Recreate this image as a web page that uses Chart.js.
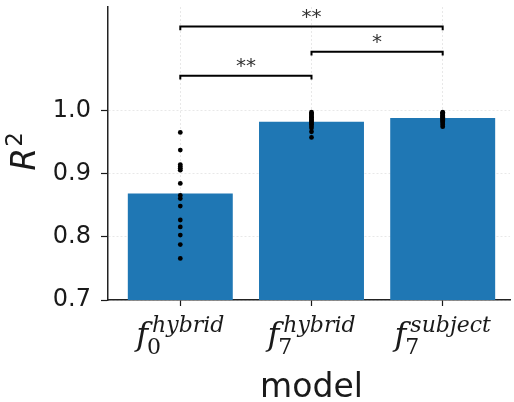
<!DOCTYPE html>
<html>
<head>
<meta charset="utf-8">
<script src="https://cdn.jsdelivr.net/npm/chart.js@4.4.0/dist/chart.umd.min.js"></script>
<style>
  html, body { margin: 0; padding: 0; background: #fff; }
  #wrap { width: 514px; height: 402px; }
</style>
</head>
<body>
<div id="wrap"><canvas id="barchart" width="514" height="402"></canvas></div>
<script>
// model names: base letter, subscript, superscript
var modelSub = ['0', '7', '7'];
var modelSup = ['hybrid', 'hybrid', 'subject'];
var meanR2 = [0.869, 0.983, 0.989];

// per-subject R^2 values (dots)
var subjR2_f0hybrid = [0.966, 0.938, 0.915, 0.912, 0.909, 0.906, 0.885, 0.866, 0.861, 0.849, 0.827, 0.816, 0.803, 0.788, 0.766];
var subjR2_f7hybrid = [0.998, 0.996, 0.994, 0.992, 0.990, 0.989, 0.987, 0.985, 0.983, 0.981, 0.979, 0.976, 0.973, 0.967, 0.958];
var subjR2_f7subject = [0.998, 0.997, 0.996, 0.995, 0.993, 0.992, 0.991, 0.990, 0.988, 0.987, 0.985, 0.983, 0.981, 0.978, 0.975];

var yTicks = [0.7, 0.8, 0.9, 1.0];

// significance brackets
var sigFrom = [0, 1, 0];
var sigTo = [1, 2, 2];
var sigLevel = [1.056, 1.094, 1.134];
var sigText = ['**', '*', '**'];

var textColor = '#1a1a1a';

var barData = meanR2.map(function(v, i) { return {x: i, y: v}; });
var dotData = [];
[subjR2_f0hybrid, subjR2_f7hybrid, subjR2_f7subject].forEach(function(arr, i) {
    arr.forEach(function(v) { dotData.push({x: i, y: v}); });
});

var extras = {
    id: 'extras',
    afterDatasetsDraw: function(chart) {
        var ctx = chart.ctx;
        var xs = chart.scales.x;
        var ys = chart.scales.y;

        // brackets
        ctx.save();
        ctx.strokeStyle = '#000';
        ctx.lineWidth = 2;
        for (var i = 0; i < sigFrom.length; i++) {
            var x1 = xs.getPixelForValue(sigFrom[i]);
            var x2 = xs.getPixelForValue(sigTo[i]);
            var y = ys.getPixelForValue(sigLevel[i]);
            var yd = ys.getPixelForValue(sigLevel[i] - 0.006);
            ctx.beginPath();
            ctx.moveTo(x1, yd);
            ctx.lineTo(x1, y);
            ctx.lineTo(x2, y);
            ctx.lineTo(x2, yd);
            ctx.stroke();
            ctx.fillStyle = '#333';
            ctx.font = '20px "DejaVu Sans"';
            ctx.textAlign = 'center';
            ctx.textBaseline = 'alphabetic';
            ctx.fillText(sigText[i], (x1 + x2) / 2, y - 4);
        }
        ctx.restore();
    },
    afterDraw: function(chart) {
        var ctx = chart.ctx;
        var xs = chart.scales.x;
        ctx.save();
        ctx.fillStyle = textColor;
        ctx.textBaseline = 'alphabetic';
        ctx.textAlign = 'left';

        // x tick labels f_sub^sup
        var mainFont = 'italic 32px "DejaVu Serif"';
        var subFont = '22px "DejaVu Serif"';
        var supFont = 'italic 22px "DejaVu Serif"';
        for (var i = 0; i < modelSub.length; i++) {
            var cx = xs.getPixelForValue(i);
            ctx.font = mainFont;
            var wf = ctx.measureText('f').width + 4;
            ctx.font = subFont;
            var wsub = ctx.measureText(modelSub[i]).width;
            ctx.font = supFont;
            var wsup = ctx.measureText(modelSup[i]).width;
            var total = wf + Math.max(wsub, wsup);
            var x0 = cx - total / 2;
            ctx.font = mainFont;
            ctx.fillText('f', x0, 345);
            ctx.font = subFont;
            ctx.fillText(modelSub[i], x0 + wf - 5, 354);
            ctx.font = supFont;
            ctx.fillText(modelSup[i], x0 + wf, 332);
        }

        // x axis title
        ctx.font = '33px "DejaVu Sans"';
        ctx.textAlign = 'center';
        ctx.fillText('model', xs.getPixelForValue(1), 397);

        // y axis title R^2
        ctx.translate(35, 152);
        ctx.rotate(-Math.PI / 2);
        ctx.textAlign = 'left';
        ctx.font = 'italic 33px "DejaVu Sans"';
        var wr = ctx.measureText('R').width;
        ctx.font = '23px "DejaVu Sans"';
        var w2 = ctx.measureText('2').width;
        var start = -(wr + w2) / 2;
        ctx.font = 'italic 33px "DejaVu Sans"';
        ctx.fillText('R', start, 0);
        ctx.font = '23px "DejaVu Sans"';
        ctx.fillText('2', start + wr + 1, -13);
        ctx.restore();
    }
};

var ctx = document.getElementById('barchart');
var chart = new Chart(ctx, {
    type: 'bar',
    data: {
        datasets: [{
            type: 'scatter',
            data: dotData,
            backgroundColor: '#000',
            borderWidth: 0,
            pointRadius: 2.4,
            order: 0
        }, {
            data: barData,
            backgroundColor: '#1f77b4',
            borderWidth: 0,
            categoryPercentage: 1.0,
            barPercentage: 0.8,
            order: 1
        }]
    },
    options: {
        responsive: false,
        animation: false,
        events: [],
        layout: { padding: { top: 7, left: 0, right: 0, bottom: 0 } },
        plugins: {
            legend: { display: false },
            tooltip: { enabled: false }
        },
        scales: {
            x: {
                type: 'linear',
                offset: false,
                min: -0.551,
                max: 2.513,
                afterBuildTicks: function(scale) {
                    scale.ticks = modelSub.map(function(s, i) { return {value: i}; });
                },
                afterFit: function(scale) {
                    scale.height = 102;
                    scale.paddingLeft = 0;
                    scale.paddingRight = 0;
                },
                ticks: {
                    callback: function() { return ''; }
                },
                grid: {
                    offset: false,
                    color: 'rgba(0,0,0,0.09)',
                    tickColor: textColor,
                    tickLength: 6,
                    tickWidth: 1.2
                },
                border: { color: '#222', width: 1.5, dash: [2, 2] }
            },
            y: {
                min: 0.7,
                max: 1.165,
                afterBuildTicks: function(scale) {
                    scale.ticks = yTicks.map(function(v) { return {value: v}; });
                },
                afterFit: function(scale) {
                    scale.width = 108;
                    scale.paddingTop = 0;
                    scale.paddingBottom = 0;
                },
                ticks: {
                    color: textColor,
                    font: { family: 'DejaVu Sans', size: 24 },
                    padding: 10,
                    callback: function(v) { return v.toFixed(1); }
                },
                grid: {
                    color: 'rgba(0,0,0,0.09)',
                    tickColor: textColor,
                    tickLength: 7,
                    tickWidth: 1.2
                },
                border: { color: '#222', width: 1.5, dash: [2, 2] }
            }
        }
    },
    plugins: [extras]
});
</script>
</body>
</html>
